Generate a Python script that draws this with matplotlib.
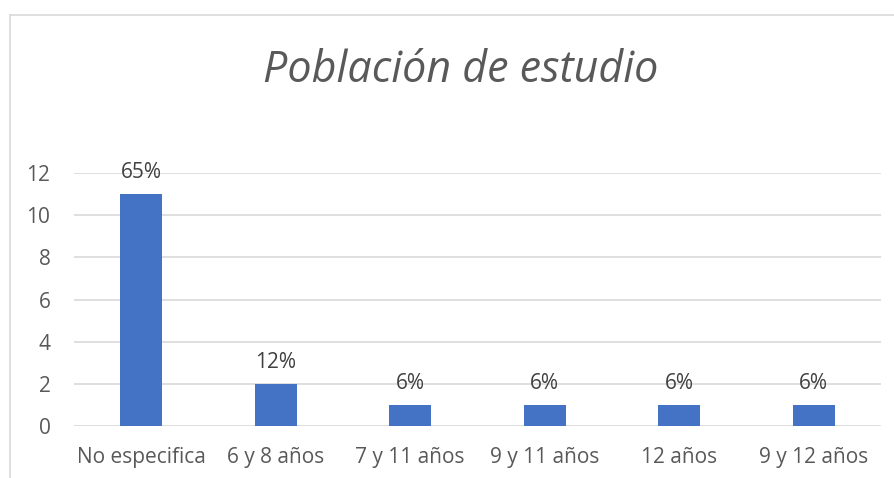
import matplotlib.pyplot as plt
from matplotlib.lines import Line2D

categories = ["No especifica", "6 y 8 años", "7 y 11 años", "9 y 11 años", "12 años", "9 y 12 años"]
counts = [11, 2, 1, 1, 1, 1]
pct_labels = ["65%", "12%", "6%", "6%", "6%", "6%"]
yticks = [0, 2, 4, 6, 8, 10, 12]

W, H = 895, 478
fig = plt.figure(figsize=(W / 100, H / 100), dpi=100)
ax = fig.add_axes([74 / W, 1 - 426 / H, (881 - 74) / W, (426 - 173) / H])

x = range(len(categories))
bars = ax.bar(x, counts, width=0.31, color="#4472C4", zorder=3)
ax.bar_label(bars, labels=pct_labels, padding=8, fontsize=15,
             color="#404040", family="Open Sans")

ax.set_xlim(-0.5, len(categories) - 0.5)
ax.set_ylim(0, 12)
ax.set_yticks(yticks)
ax.set_xticks(list(x))
ax.set_xticklabels(categories)
ax.grid(axis="y", color="#D9D9D9", linewidth=1.2, zorder=0)
for s in ax.spines.values():
    s.set_visible(False)
ax.tick_params(length=0, labelsize=15, labelcolor="#595959")
ax.tick_params(axis="y", pad=17)
ax.tick_params(axis="x", pad=15)
for lab in ax.get_xticklabels() + ax.get_yticklabels():
    lab.set_family("Open Sans")

fig.text(461 / W, 1 - 82 / H, "Población de estudio", ha="center", va="baseline",
         fontsize=31, style="italic", color="#595959", family="Open Sans")

# chart border (partially cropped in the original)
fig.add_artist(Line2D([10 / W, 10 / W], [0, 1 - 15 / H], transform=fig.transFigure,
                      color="#D9D9D9", linewidth=1.2))
fig.add_artist(Line2D([10 / W, 1], [1 - 15 / H, 1 - 15 / H], transform=fig.transFigure,
                      color="#D9D9D9", linewidth=1.2))

fig.savefig("out.png", dpi=100)
